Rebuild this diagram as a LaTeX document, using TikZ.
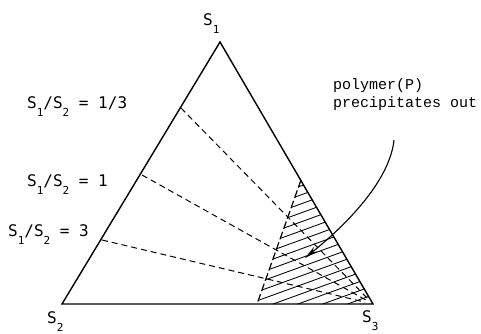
\documentclass[tikz,border=0pt]{standalone}
\usepackage{fontspec}
\usetikzlibrary{arrows.meta,calc}
\newfontfamily\lblfont{DejaVu Sans Mono}
\newfontfamily\txtfont{Liberation Mono}
\newcommand\lowsub[1]{\raisebox{-8pt}{\fontsize{11}{11}\selectfont #1}}
\tikzset{
  edge/.style={line width=1.4pt, line join=miter},
  tie/.style={line width=1pt, dash pattern=on 6pt off 4pt},
  hatch/.style={line width=0.85pt},
  border/.style={line width=1.2pt, dash pattern=on 8pt off 3pt},
  lbl/.style={anchor=base west, inner sep=0pt, font=\lblfont\fontsize{16}{18}\selectfont},
  note/.style={anchor=base west, inner sep=0pt, align=left, font=\txtfont\fontsize{15}{18}\selectfont},
}
\begin{document}
\begin{tikzpicture}[x=1pt,y=-1pt]
\useasboundingbox (0,0) rectangle (481,333);
% vertices
\coordinate (S1) at (220,42);
\coordinate (S2) at (62,304);
\coordinate (S3) at (373,304);
% tie-line start points
\coordinate (a) at (181,108);
\coordinate (b) at (142,175);
\coordinate (c) at (102,240);
% hatched region corners
\coordinate (h1) at (301,180);
\coordinate (h2) at (257,304);
% hatching
\begin{scope}
\clip (h1) -- (S3) -- (h2) -- cycle;
\foreach \i in {0,...,19}
  \draw[hatch] (240,{190+\i*9}) -- ++(160,-58);
\end{scope}
\draw[border] (h1) -- (h2);
% tie lines
\draw[tie] (a) -- ($(a)!0.97!(S3)$);
\draw[tie] (b) -- ($(b)!0.97!(S3)$);
\draw[tie] (c) -- ($(c)!0.97!(S3)$);
% triangle
\draw[edge] (S1) -- (S2) -- (S3) -- cycle;
% labels
\node[lbl] (l1) at (203,25) {S\lowsub{1}};
\node[lbl] (l2) at (47,323) {S\lowsub{2}};
\node[lbl] (l3) at (362,322) {S\lowsub{3}};
\node[lbl] (r1) at (27,108) {S\lowsub{1}/S\lowsub{2} = 1/3};
\node[lbl] (r2) at (27,186) {S\lowsub{1}/S\lowsub{2} = 1};
\node[lbl] (r3) at (8,236) {S\lowsub{1}/S\lowsub{2} = 3};
\node[note] (p) at (333,107) {polymer(P)\\precipitates out};
\coordinate (tipA) at (394,140);
\coordinate (tipB) at (305,258);
\draw[line width=1.1pt, -{Stealth[length=14pt,width=6pt]}] (tipA) .. controls (390,178) and (352,220) .. (tipB);
\end{tikzpicture}
\end{document}
